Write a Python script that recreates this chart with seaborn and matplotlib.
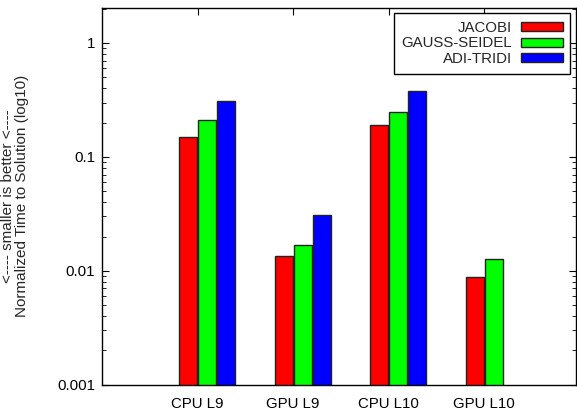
import pandas as pd
import matplotlib.pyplot as plt
import seaborn as sns
from matplotlib.ticker import FixedLocator, FixedFormatter, LogLocator, NullFormatter

cases = ["CPU L9", "GPU L9", "CPU L10", "GPU L10"]
methods = ["JACOBI", "GAUSS-SEIDEL", "ADI-TRIDI"]
jacobi = [0.149, 0.0135, 0.191, 0.0089]
gauss_seidel = [0.212, 0.0170, 0.248, 0.0127]
adi_tridi = [0.312, 0.0312, 0.382, None]  # no GPU L10 run

rows = []
for name, vals in zip(methods, [jacobi, gauss_seidel, adi_tridi]):
    for c, v in zip(cases, vals):
        if v is not None:
            rows.append({"case": c, "method": name, "time": v})
df = pd.DataFrame(rows)

sns.set_style("ticks")
plt.rcParams['font.family'] = ['Liberation Sans', 'DejaVu Sans']
plt.rcParams['font.size'] = 10.8

fig = plt.figure(figsize=(5.77, 4.16), dpi=100)
ax = fig.add_axes([0.177, 0.075, 0.821, 0.906])

sns.barplot(data=df, x="case", y="time", hue="method", order=cases, hue_order=methods,
            palette=["#ff0000", "#00ff00", "#0000ff"], width=0.6, gap=0.06,
            edgecolor="#222222", linewidth=1.0, saturation=1, ax=ax, log_scale=(False, True))

ax.set_yscale("log")
ax.set_ylim(0.001, 2.03)
ax.set_xlim(-1.1, 3.86)
ax.xaxis.set_major_locator(FixedLocator([i - 0.1 for i in range(len(cases))]))
ax.xaxis.set_major_formatter(FixedFormatter(cases))
ax.yaxis.set_major_locator(FixedLocator([0.001, 0.01, 0.1, 1]))
ax.yaxis.set_major_formatter(FixedFormatter(["0.001", "0.01", "0.1", "1"]))
ax.yaxis.set_minor_locator(LogLocator(base=10, subs=range(2, 10)))
ax.yaxis.set_minor_formatter(NullFormatter())
ax.tick_params(direction="in", top=True, right=True, which="both", colors="black",
               labelsize=10.8)
ax.tick_params(axis="x", pad=9)
ax.tick_params(axis="y", pad=5)
ax.tick_params(which="major", length=5, width=0.8)
ax.tick_params(which="minor", length=3, width=0.6)
for s in ax.spines.values():
    s.set_color("black")
    s.set_linewidth(1.0)

ax.set_xlabel("")
ax.set_ylabel("<---- smaller is better <----\nNormalized Time to Solution (log10)",
              fontsize=11, labelpad=20, linespacing=1.0)

leg = ax.legend(loc="upper right", markerfirst=False, fancybox=False, framealpha=1,
                edgecolor="black", handlelength=2.8, handleheight=0.55,
                borderpad=0.5, labelspacing=0.12, handletextpad=0.6,
                borderaxespad=0, bbox_to_anchor=(0.988, 0.986), fontsize=10.8)
leg.get_frame().set_linewidth(1.0)

plt.savefig("out.png", dpi=100)
